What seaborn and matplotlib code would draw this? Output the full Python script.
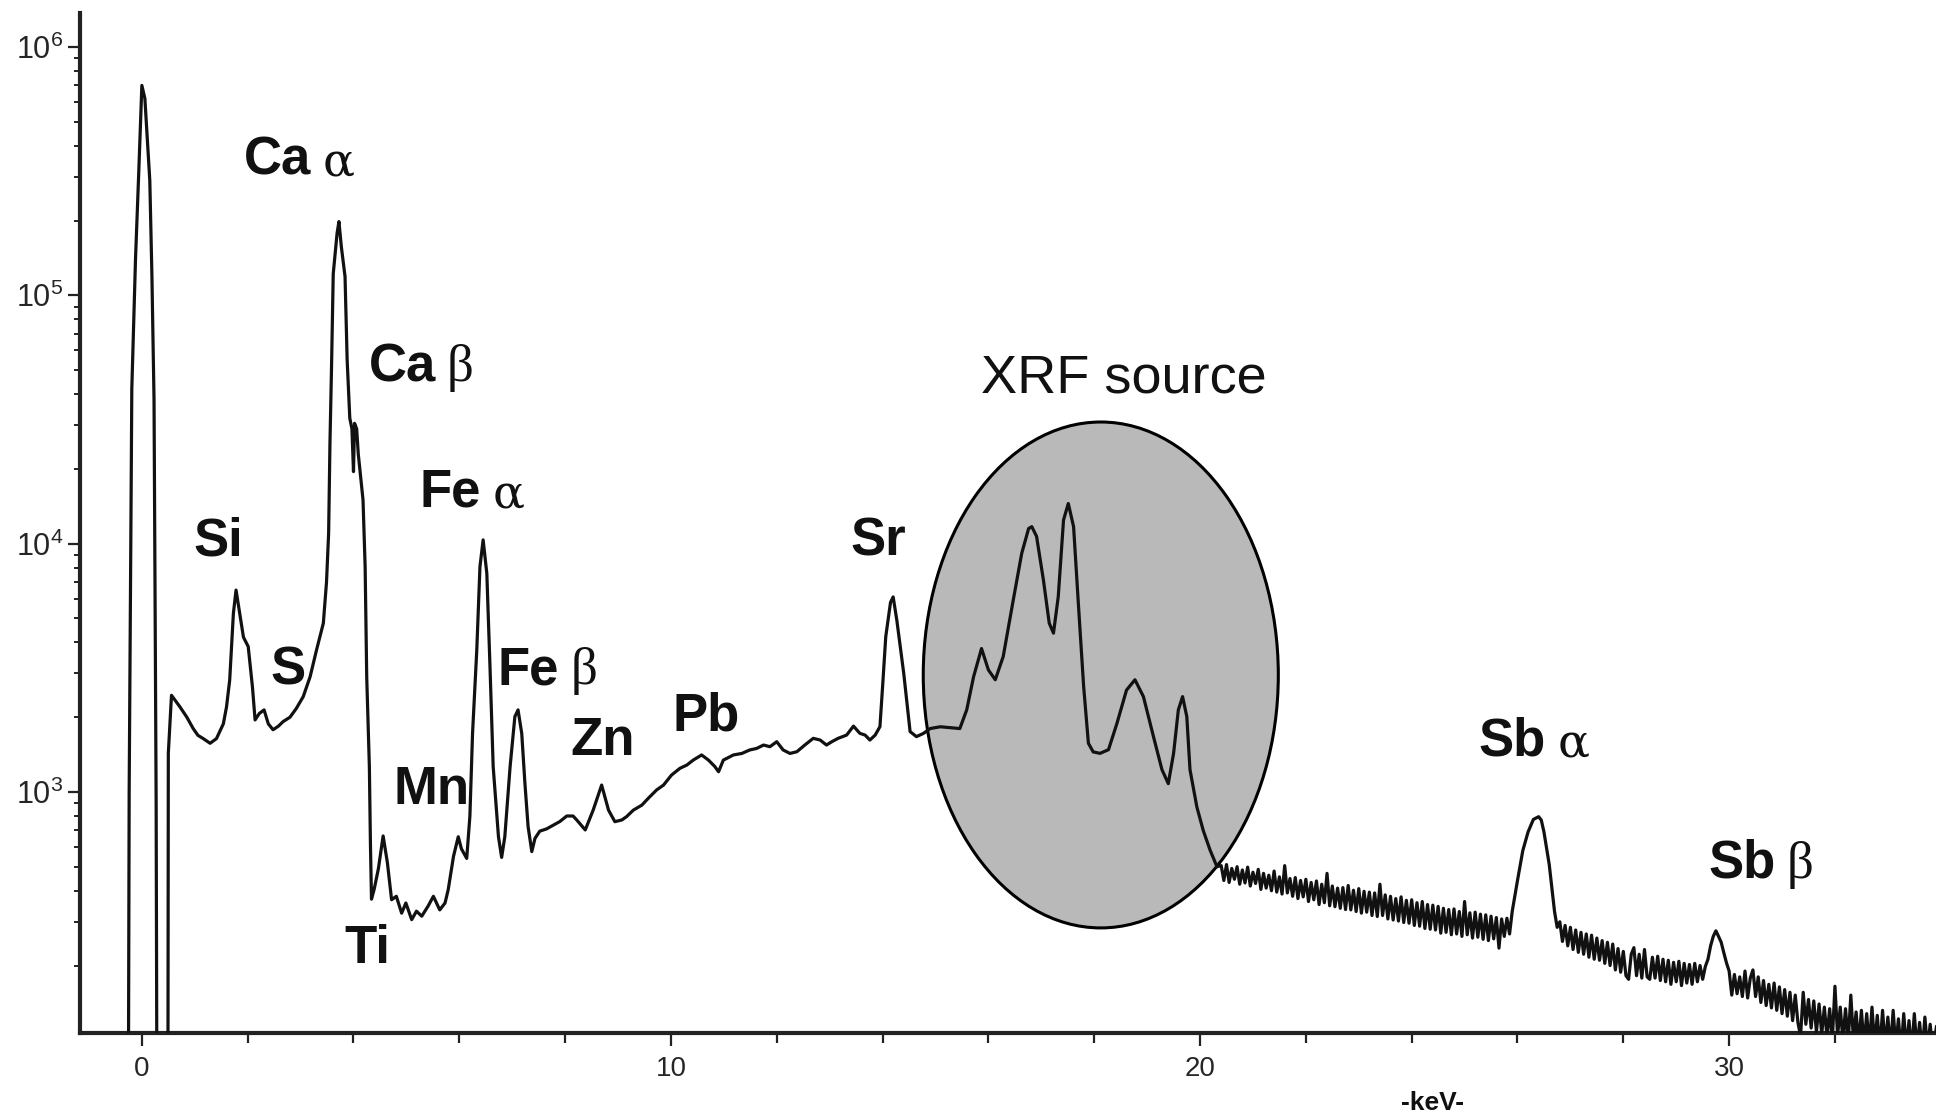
import numpy as np
import pandas as pd
import matplotlib
matplotlib.use("Agg")
import matplotlib.pyplot as plt
import seaborn as sns
from matplotlib.patches import Ellipse
from matplotlib.ticker import MultipleLocator, FixedLocator, LogLocator

# ---------------- data ----------------
# 0 - 20.3 keV : energy (keV) and counts
kev_low = [
    -0.30, -0.26, -0.24, -0.19, -0.12, -0.057, 0.0, 0.057, 0.15, 0.19, 0.23, 0.27, 0.29,
    0.49, 0.50, 0.56, 0.72, 0.85, 0.97, 1.06, 1.16, 1.29, 1.41, 1.54, 1.60, 1.66, 1.73,
    1.78, 1.84, 1.92, 2.01, 2.09, 2.14, 2.22, 2.31, 2.39, 2.48, 2.58, 2.67, 2.80, 2.92,
    3.05, 3.18, 3.30, 3.43, 3.49, 3.53, 3.555, 3.585, 3.617, 3.69, 3.725, 3.77, 3.84,
    3.88, 3.93, 3.97, 4.00, 4.02, 4.06, 4.09, 4.18, 4.22, 4.25, 4.30, 4.32, 4.34, 4.39,
    4.47, 4.56, 4.64, 4.72, 4.81, 4.91, 4.99, 5.10, 5.19, 5.29, 5.41, 5.51, 5.63, 5.73,
    5.79, 5.89, 5.98, 6.04, 6.14, 6.20, 6.25, 6.33, 6.39, 6.45, 6.52, 6.58, 6.64, 6.74,
    6.80, 6.86, 6.96, 7.05, 7.11, 7.18, 7.24, 7.30, 7.37, 7.43, 7.52, 7.65, 7.78, 7.90,
    8.03, 8.15, 8.22, 8.38, 8.53, 8.69, 8.82, 8.94, 9.07, 9.16, 9.29, 9.45, 9.57, 9.73,
    9.86, 10.01, 10.17, 10.30, 10.42, 10.58, 10.71, 10.83, 10.90, 10.99, 11.18, 11.34,
    11.49, 11.62, 11.75, 11.87, 12.00, 12.12, 12.25, 12.38, 12.53, 12.69, 12.82, 12.94,
    13.04, 13.16, 13.32, 13.45, 13.57, 13.67, 13.76, 13.86, 13.95, 14.00, 14.06, 14.15,
    14.20, 14.27, 14.40, 14.46, 14.52, 14.64, 14.77, 14.90, 15.09, 15.46, 15.59, 15.72,
    15.87, 16.00, 16.13, 16.28, 16.47, 16.63, 16.76, 16.82, 16.91, 17.04, 17.15, 17.23,
    17.32, 17.42, 17.51, 17.61, 17.70, 17.80, 17.89, 17.98, 18.11, 18.27, 18.43, 18.61,
    18.77, 18.93, 19.12, 19.28, 19.40, 19.50, 19.59, 19.67, 19.75, 19.81, 19.94, 20.06,
    20.19, 20.32,
]
counts_low = [
    20, 20, 1000, 42000, 140000, 320000, 700000, 620000, 290000, 120000, 38000, 900, 20,
    20, 1430, 2450, 2200, 2000, 1800, 1690, 1640, 1570, 1640, 1880, 2200, 2820, 5240,
    6500, 5400, 4200, 3850, 2650, 1950, 2070, 2140, 1880, 1780, 1840, 1920, 2000, 2170,
    2420, 2910, 3720, 4780, 7000, 11000, 25300, 51600, 122000, 178000, 198000, 157000, 119000,
    55000, 32000, 29000, 19500, 30500, 29000, 23000, 15000, 8070, 2900, 1265, 620, 370, 405,
    490, 665, 520, 368, 380, 325, 357, 306, 331, 316, 347, 380, 335, 357,
    404, 550, 660, 590, 540, 800, 1720, 3720, 8070, 10350, 7580, 3190, 1265, 660,
    545, 660, 1265, 2010, 2140, 1720, 1083, 725, 575, 650, 695, 710, 736, 760,
    800, 800, 771, 703, 845, 1066, 845, 759, 771, 795, 845, 885, 942, 1019,
    1066, 1169, 1245, 1283, 1343, 1409, 1343, 1265, 1206, 1343, 1409, 1429,
    1476, 1497, 1545, 1521, 1593, 1476, 1429, 1452, 1545, 1644, 1618, 1545,
    1593, 1644, 1694, 1841, 1722, 1694, 1618, 1694, 1832, 2655, 4220, 5800,
    6100, 4900, 3000, 2300, 1750, 1670, 1720, 1800, 1830, 1800, 2140, 2910,
    3780, 3100, 2830, 3510, 5930, 9140, 11500, 11700, 10700, 7130, 4780, 4360,
    6110, 12450, 14500, 11700, 5740, 2660, 1570, 1450, 1430, 1480, 1890, 2570,
    2830, 2420, 1670, 1230, 1080, 1430, 2140, 2420, 2010, 1230, 870, 700,
    583, 500,
]
# 20.4 - 33.9 keV : noisy background with the Sb lines
kev_tail = [
    20.40, 20.45, 20.50, 20.55, 20.60, 20.65, 20.70, 20.75, 20.80, 20.85, 20.90, 20.95,
    21.00, 21.05, 21.10, 21.15, 21.20, 21.25, 21.30, 21.35, 21.40, 21.45, 21.50, 21.55,
    21.60, 21.65, 21.70, 21.75, 21.80, 21.85, 21.90, 21.95, 22.00, 22.05, 22.10, 22.15,
    22.20, 22.25, 22.30, 22.35, 22.40, 22.45, 22.50, 22.55, 22.60, 22.65, 22.70, 22.75,
    22.80, 22.85, 22.90, 22.95, 23.00, 23.05, 23.10, 23.15, 23.20, 23.25, 23.30, 23.35,
    23.40, 23.45, 23.50, 23.55, 23.60, 23.65, 23.70, 23.75, 23.80, 23.85, 23.90, 23.95,
    24.00, 24.05, 24.10, 24.15, 24.20, 24.25, 24.30, 24.35, 24.40, 24.45, 24.50, 24.55,
    24.60, 24.65, 24.70, 24.75, 24.80, 24.85, 24.90, 24.95, 25.00, 25.05, 25.10, 25.15,
    25.20, 25.25, 25.30, 25.35, 25.40, 25.45, 25.50, 25.55, 25.60, 25.65, 25.70, 25.75,
    25.80, 25.85, 25.90, 26.00, 26.10, 26.20, 26.30, 26.40, 26.45, 26.50, 26.60, 26.70,
    26.75, 26.80, 26.85, 26.90, 26.95, 27.00, 27.05, 27.10, 27.15, 27.20, 27.25, 27.30,
    27.35, 27.40, 27.45, 27.50, 27.55, 27.60, 27.65, 27.70, 27.75, 27.80, 27.85, 27.90,
    27.95, 28.00, 28.05, 28.10, 28.15, 28.20, 28.25, 28.30, 28.35, 28.40, 28.45, 28.50,
    28.55, 28.60, 28.65, 28.70, 28.75, 28.80, 28.85, 28.90, 28.95, 29.00, 29.05, 29.10,
    29.15, 29.20, 29.25, 29.30, 29.35, 29.40, 29.45, 29.50, 29.55, 29.60, 29.65, 29.70,
    29.75, 29.80, 29.85, 29.90, 29.95, 30.00, 30.05, 30.10, 30.15, 30.20, 30.25, 30.30,
    30.35, 30.40, 30.45, 30.50, 30.55, 30.60, 30.65, 30.70, 30.75, 30.80, 30.85, 30.90,
    30.95, 31.00, 31.05, 31.10, 31.15, 31.20, 31.25, 31.30, 31.35, 31.40, 31.45, 31.50,
    31.55, 31.60, 31.65, 31.70, 31.75, 31.80, 31.85, 31.90, 31.95, 32.00, 32.05, 32.10,
    32.15, 32.20, 32.25, 32.30, 32.35, 32.40, 32.45, 32.50, 32.55, 32.60, 32.65, 32.70,
    32.75, 32.80, 32.85, 32.90, 32.95, 33.00, 33.05, 33.10, 33.15, 33.20, 33.25, 33.30,
    33.35, 33.40, 33.45, 33.50, 33.55, 33.60, 33.65, 33.70, 33.75, 33.80, 33.85, 33.92,
]
counts_tail = [
    505, 440, 510, 432, 492, 445, 500, 425, 485, 430, 498, 418,
    475, 428, 488, 405, 470, 410, 462, 400, 480, 395, 455, 388,
    505, 392, 448, 380, 452, 372, 440, 378, 445, 362, 432, 368,
    438, 352, 425, 358, 470, 348, 418, 345, 410, 340, 412, 336,
    420, 335, 402, 330, 408, 325, 398, 328, 395, 318, 392, 315,
    425, 318, 385, 308, 380, 305, 372, 302, 378, 298, 366, 296,
    368, 290, 358, 288, 362, 282, 352, 280, 350, 278, 346, 270,
    340, 272, 336, 266, 338, 268, 330, 262, 362, 266, 326, 258,
    328, 260, 322, 255, 320, 252, 316, 256, 312, 235, 308, 262,
    310, 268, 330, 440, 580, 690, 775, 795, 770, 690, 510, 330,
    285, 300, 250, 290, 240, 285, 232, 278, 226, 272, 222, 268,
    216, 265, 212, 258, 210, 252, 204, 248, 200, 244, 192, 234,
    188, 228, 182, 176, 222, 236, 182, 222, 178, 232, 180, 176,
    216, 178, 218, 174, 212, 172, 210, 168, 206, 172, 208, 166,
    204, 170, 202, 168, 204, 172, 200, 176, 198, 212, 240, 262,
    276, 262, 248, 225, 205, 190, 152, 184, 154, 180, 150, 190,
    148, 178, 192, 150, 180, 142, 174, 138, 168, 135, 170, 132,
    164, 128, 160, 125, 156, 120, 152, 118, 104, 156, 116, 146,
    112, 144, 108, 140, 106, 136, 103, 134, 100, 165, 104, 136,
    100, 134, 98, 152, 100, 130, 96, 132, 95, 128, 94, 136,
    95, 126, 92, 132, 94, 124, 92, 132, 94, 122, 90, 128,
    92, 120, 90, 128, 92, 118, 90, 124, 92, 116, 90, 114,
]

# peak labels: bold element part, greek suffix, position (keV, counts at baseline)
lab_main = ["Ca", "Ca", "Si", "S", "Fe", "Fe", "Mn", "Ti", "Zn", "Pb", "Sr", "Sb", "Sb"]
lab_greek = ["α", "β", "", "", "α", "β", "", "", "", "", "", "α", "β"]
lab_x = [2.567, 4.924, 1.447, 2.754, 5.835, 7.306, 5.484, 4.271, 8.705, 10.665, 13.911, 25.907, 30.249]
lab_y = [307600, 45000, 8950, 2720, 14140, 2720, 895, 204, 1414, 1760, 8950, 1400, 451]

x_ticks = [0, 10, 20, 30]
y_ticks = [1e3, 1e4, 1e5, 1e6]

df = pd.DataFrame({"keV": kev_low + kev_tail, "counts": counts_low + counts_tail})

# ---------------- figure ----------------
sns.set_style("ticks")
plt.rcParams["font.family"] = ["Liberation Sans Narrow", "Liberation Sans", "DejaVu Sans"]

fig = plt.figure(figsize=(19.36, 11.2), dpi=100)
ax = fig.add_axes([0.0413, 0.0777, 0.9587, 0.9107])
ax.set_yscale("log")

ell = Ellipse((0.550, 0.351), 0.1913, 0.496, transform=ax.transAxes,
              facecolor="#b9b9b9", edgecolor="black", linewidth=2.2, zorder=1.5)
ax.add_patch(ell)

sns.lineplot(data=df, x="keV", y="counts", ax=ax, color="#111111", linewidth=2.3,
             estimator=None, sort=False, legend=False, zorder=3)

ax.set_xlim(-1.17, 33.91)
ax.set_ylim(107, 1.37e6)
ax.set_xlabel("")
ax.set_ylabel("")

for s in ["top", "right"]:
    ax.spines[s].set_visible(False)
for s in ["left", "bottom"]:
    ax.spines[s].set_linewidth(3)
    ax.spines[s].set_color("#222222")

ax.xaxis.set_major_locator(FixedLocator(x_ticks))
ax.xaxis.set_minor_locator(MultipleLocator(2))
ax.yaxis.set_major_locator(FixedLocator(y_ticks))
ax.yaxis.set_minor_locator(LogLocator(base=10, subs=np.arange(2, 10)))

ax.tick_params(axis="x", which="major", direction="out", length=9.5, width=1.6,
               labelsize=20, pad=7, color="#222222")
ax.tick_params(axis="x", which="minor", direction="out", length=7.5, width=1.6, color="#222222")
ax.tick_params(axis="y", which="major", direction="out", length=9, width=1.6,
               labelsize=22, pad=3, color="#222222")
ax.tick_params(axis="y", which="minor", direction="out", length=4.5, width=1.4, color="#222222")

bold_fam = ["Liberation Sans", "DejaVu Sans"]
greek_fam = {"α": ["DejaVu Serif"], "β": ["Liberation Serif", "DejaVu Serif"]}
greek_size = {"α": 34, "β": 38}
for name, g, x, y in zip(lab_main, lab_greek, lab_x, lab_y):
    t = ax.text(x, y, name, fontsize=38, fontweight="bold", family=bold_fam,
                ha="center", va="baseline", color="#111111", zorder=4)
    if g:
        ax.annotate(g, xy=(1, 0), xycoords=t, xytext=(8, 0), textcoords="offset points",
                    fontsize=greek_size[g], family=greek_fam[g], ha="left", va="bottom",
                    color="#111111", zorder=4)

ax.text(18.556, 40550, "XRF source", fontsize=39, family=bold_fam,
        ha="center", va="baseline", color="#111111", zorder=4)

fig.text(0.7397, 0.0152, "-keV-", fontsize=19, fontweight="bold",
         ha="center", va="center", color="#111111")

fig.savefig("out.png", dpi=100, facecolor="white")
